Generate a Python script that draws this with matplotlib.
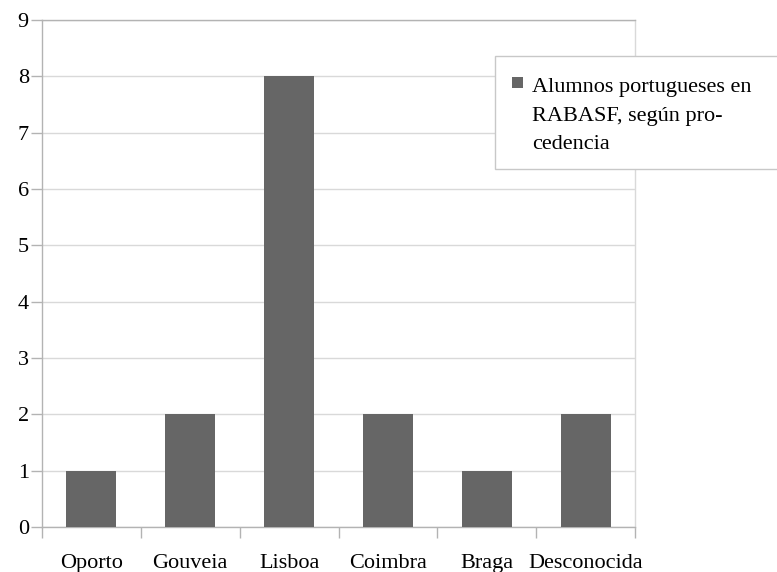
import matplotlib
matplotlib.use("Agg")
import matplotlib.pyplot as plt
from matplotlib.patches import Rectangle

categories = ["Oporto", "Gouveia", "Lisboa", "Coimbra", "Braga", "Desconocida"]
values = [1, 2, 8, 2, 1, 2]
series_label = ["Alumnos portugueses en", "RABASF, según pro-", "cedencia"]
y_ticks = list(range(0, 10))

W, H = 777, 572
FS = 16
plt.rcParams["font.family"] = ["Liberation Serif", "DejaVu Serif"]
fig = plt.figure(figsize=(W / 100, H / 100), dpi=100)

left, right, top, bottom = 42, 635, 20, 527
ax = fig.add_axes([left / W, 1 - bottom / H, (right - left) / W, (bottom - top) / H])

bar_color = "#666666"
xs = [i + 0.5 for i in range(len(categories))]
ax.bar(xs, values, width=0.505, color=bar_color, zorder=3)

ax.set_xlim(0, len(categories))
ax.set_ylim(0, 9)

# y axis
ax.set_yticks(y_ticks)
ax.set_yticklabels([str(v) for v in y_ticks], fontsize=FS)
ax.tick_params(axis="y", length=8, width=1, color="#b3b3b3", pad=1.5, labelcolor="black")
ax.yaxis.grid(True, color="#d9d9d9", linewidth=1, zorder=0)

# x axis: ticks at category boundaries, labels at centers
ax.set_xticks(range(len(categories) + 1))
ax.set_xticklabels([""] * (len(categories) + 1))
ax.set_xticks(xs, minor=True)
ax.set_xticklabels(categories, minor=True, fontsize=FS)
ax.tick_params(axis="x", which="major", length=8, width=1, color="#b3b3b3")
ax.tick_params(axis="x", which="minor", length=0, pad=19.5, labelcolor="black")

for side in ["left", "bottom", "top"]:
    ax.spines[side].set_color("#b3b3b3")
    ax.spines[side].set_linewidth(1)
ax.spines["right"].set_color("#d9d9d9")
ax.spines["right"].set_linewidth(1)

# legend box
def fx(px):
    return px / W

def fy(py):
    return 1 - py / H

box = Rectangle((fx(495), fy(169)), fx(790) - fx(495), fy(56) - fy(169),
                transform=fig.transFigure, facecolor="white", edgecolor="#c8c8c8",
                linewidth=1, zorder=10)
fig.add_artist(box)
sq = Rectangle((fx(512), fy(88)), fx(523) - fx(512), fy(77) - fy(88),
               transform=fig.transFigure, facecolor=bar_color, edgecolor="none", zorder=11)
fig.add_artist(sq)
for i, line in enumerate(series_label):
    fig.text(fx(532), fy(92 + 28.5 * i), line, fontsize=FS, va="baseline", ha="left",
             color="black", zorder=12)

fig.savefig("out.png", dpi=100)
